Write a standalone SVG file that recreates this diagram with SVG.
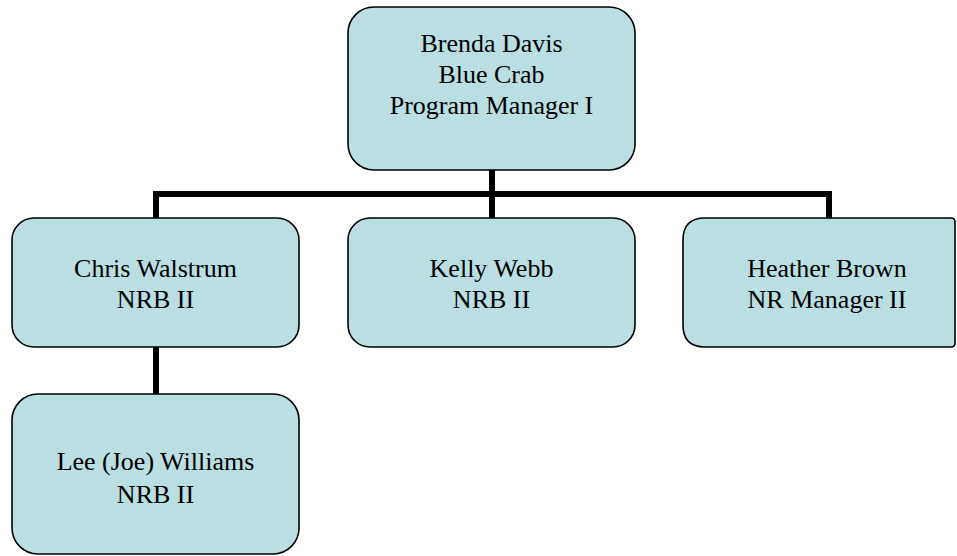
<svg xmlns="http://www.w3.org/2000/svg" width="957" height="556" viewBox="0 0 957 556">
<style>
.box{fill:#B9DFE3;stroke:#000;stroke-width:1.6}
.t{font-family:"Liberation Serif","Times New Roman",serif;font-size:26px;fill:#000;text-anchor:middle}
.c{fill:none;stroke:#000;stroke-width:6}
</style>
<rect width="957" height="556" fill="#fff"/>
<g id="connectors">
<line class="c" x1="492" y1="170" x2="492" y2="218"/>
<polyline class="c" points="156,218 156,194 829,194 829,218"/>
<line class="c" x1="156" y1="347" x2="156" y2="394"/>
</g>
<g id="brenda">
<rect class="box" x="348" y="7" width="287" height="163" rx="26"/>
<text class="t" x="491.5" y="52">Brenda Davis</text>
<text class="t" x="491.5" y="83">Blue Crab</text>
<text class="t" x="491.5" y="114">Program Manager I</text>
</g>
<g id="chris">
<rect class="box" x="12" y="218" width="287" height="129" rx="22"/>
<text class="t" x="155.5" y="277">Chris Walstrum</text>
<text class="t" x="155.5" y="308">NRB II</text>
</g>
<g id="kelly">
<rect class="box" x="348" y="218" width="287" height="129" rx="22"/>
<text class="t" x="491.5" y="277">Kelly Webb</text>
<text class="t" x="491.5" y="308">NRB II</text>
</g>
<g id="heather">
<path class="box" d="M705,218 H951 Q955,218 955,222 V343 Q955,347 951,347 H705 Q683,347 683,325 V240 Q683,218 705,218 Z"/>
<text class="t" x="827" y="277">Heather Brown</text>
<text class="t" x="827" y="308">NR Manager II</text>
</g>
<g id="lee">
<rect class="box" x="12" y="394" width="287" height="160" rx="26"/>
<text class="t" x="155.5" y="470">Lee (Joe) Williams</text>
<text class="t" x="155.5" y="503">NRB II</text>
</g>
</svg>
